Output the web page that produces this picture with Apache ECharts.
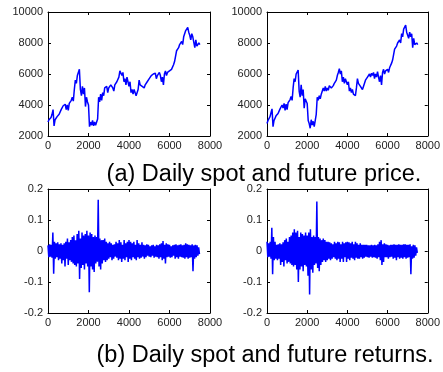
<!DOCTYPE html>
<html>
<head>
<meta charset="utf-8">
<script src="https://cdn.jsdelivr.net/npm/echarts@6/dist/echarts.min.js"></script>
<style>
  html, body { margin: 0; padding: 0; background: #fff; }
  #chart { width: 443px; height: 372px; }
</style>
</head>
<body>
<div id="chart"></div>
<script>
// trading days between samples
const PRICE_STEP = 50;
const RETURN_STEP = 40;

const dayTicks = [0, 2000, 4000, 6000, 8000];
const priceTicks = [2000, 4000, 6000, 8000, 10000];
const returnTicks = [-0.2, -0.1, 0, 0.1, 0.2];

const spotPrice = [
  2900, 3050, 3000, 3200, 3400, 3700, 2650, 3050, 3100, 3250,
  3150, 3400, 3500, 3700, 3800, 3950, 3850, 4050, 3700, 4000,
  3650, 4100, 4200, 4300, 4500, 4250, 5000, 5600, 5400, 5900,
  6000, 6300, 5000, 4600, 5200, 4700, 5100, 3900, 4500, 4200,
  4000, 2600, 2900, 2700, 3000, 2650, 2900, 2700, 2650, 3100,
  4500, 4200, 4700, 4300, 4800, 4600, 5100, 5000, 5200, 4800,
  5100, 5000, 5300, 5200, 5100, 4900, 5300, 5400, 5500, 5600,
  5800, 6200, 6300, 5900, 6100, 5500, 5700, 5300, 5800, 5500,
  5200, 5500, 4800, 5000, 4700, 5000, 4800, 4600, 4500, 5000,
  5600, 5300, 5400, 5200, 5300, 5100, 5300, 5200, 5500, 5400,
  5700, 5600, 5900, 5800, 6000, 5900, 6050, 5700, 5900, 5800,
  6100, 5900, 5500, 5800, 5300, 6000, 6200, 5900, 6100, 6000,
  6200, 6100, 6300, 6200, 6600, 6800, 6700, 7500, 7600, 7700,
  7900, 7800, 8100, 7900, 8400, 8300, 8800, 8700, 9000, 8700,
  8500, 8200, 8600, 8400, 8500, 7700, 8200, 7800, 7700, 8000,
  7900
];

const futurePrice = [
  2800, 3000, 2950, 3250, 3500, 3750, 2600, 3000, 3150, 3300,
  3200, 3450, 3550, 3750, 3850, 4000, 3800, 4100, 3650, 4050,
  3700, 4150, 4250, 4350, 4550, 4300, 5100, 5700, 5500, 6000,
  6100, 6250, 4900, 4500, 5300, 4600, 5000, 3800, 4400, 4300,
  4100, 3000, 2800, 2500, 3050, 2700, 2950, 2600, 2700, 3400,
  4500, 4300, 4600, 4400, 4700, 4600, 5100, 4900, 5200, 4900,
  5100, 4950, 5250, 5200, 5100, 5000, 5250, 5400, 5450, 5600,
  5900, 6100, 6350, 6000, 6200, 5500, 5800, 5400, 5700, 5500,
  5300, 5500, 4900, 5100, 4800, 5000, 4700, 4600, 4600, 5100,
  5700, 5400, 5300, 5200, 5100, 5000, 5200, 5300, 5600, 5500,
  5800, 5700, 6000, 5800, 6050, 5900, 6100, 5700, 6000, 5800,
  6150, 5800, 5500, 5900, 5300, 6100, 6300, 6000, 6200, 6100,
  6300, 6100, 6400, 6300, 6700, 6900, 6800, 7600, 7700, 7800,
  8000, 7900, 8200, 8000, 8600, 8400, 8900, 8800, 9150, 8700,
  8600, 8300, 8700, 8400, 8600, 7700, 8300, 7900, 7800, 8000,
  7900
];

const spotReturns = [
  0.018, -0.02, 0.022, -0.018, 0.02, -0.022, 0.06, -0.073, 0.03, -0.025,
  0.025, -0.02, 0.028, -0.03, 0.022, -0.025, 0.025, -0.04, 0.02, -0.03,
  0.025, -0.05, 0.03, -0.025, 0.04, -0.045, 0.028, -0.03, 0.035, -0.035,
  0.045, -0.04, 0.05, -0.045, 0.035, -0.05, 0.055, -0.04, 0.065, -0.09,
  0.04, -0.055, 0.06, -0.045, 0.05, -0.06, 0.055, -0.04, 0.065, -0.05,
  0.05, -0.133, 0.06, -0.05, 0.055, -0.06, 0.045, -0.068, 0.05, -0.04,
  0.045, -0.035, 0.165, -0.05, 0.04, -0.06, 0.035, -0.04, 0.035, -0.03,
  0.04, -0.035, 0.03, -0.03, 0.025, -0.025, 0.03, -0.02, 0.025, -0.03,
  0.02, -0.025, 0.022, -0.018, 0.03, -0.022, 0.025, -0.03, 0.035, -0.025,
  0.028, -0.035, 0.02, -0.025, 0.035, -0.03, 0.025, -0.02, 0.03, -0.035,
  0.035, -0.025, 0.03, -0.03, 0.025, -0.02, 0.03, -0.025, 0.02, -0.03,
  0.035, -0.02, 0.025, -0.025, 0.02, -0.022, 0.028, -0.018, 0.02, -0.025,
  0.018, -0.02, 0.022, -0.015, 0.02, -0.018, 0.015, -0.02, 0.018, -0.015,
  0.02, -0.022, 0.015, -0.018, 0.02, -0.02, 0.018, -0.025, 0.022, -0.02,
  0.025, -0.03, 0.032, -0.025, 0.02, -0.04, 0.025, -0.02, 0.022, -0.018,
  0.02, -0.022, 0.015, -0.02, 0.018, -0.015, 0.02, -0.025, 0.022, -0.02,
  0.018, -0.025, 0.02, -0.018, 0.022, -0.02, 0.018, -0.022, 0.02, -0.025,
  0.025, -0.02, 0.022, -0.025, 0.02, -0.022, 0.018, -0.02, 0.022, -0.065,
  0.018, -0.025, 0.02, -0.02, 0.018, -0.015, 0.012, -0.01
];

const futureReturns = [
  0.03, -0.02, 0.025, -0.018, 0.03, -0.025, 0.075, -0.075, 0.045, -0.03,
  0.03, -0.025, 0.02, -0.03, 0.022, -0.025, 0.025, -0.045, 0.022, -0.035,
  0.028, -0.05, 0.035, -0.03, 0.04, -0.04, 0.03, -0.035, 0.045, -0.04,
  0.05, -0.045, 0.06, -0.05, 0.07, -0.045, 0.06, -0.06, 0.065, -0.1,
  0.045, -0.06, 0.06, -0.05, 0.055, -0.065, 0.05, -0.045, 0.06, -0.05,
  0.05, -0.08, 0.06, -0.14, 0.07, -0.06, 0.045, -0.07, 0.05, -0.045,
  0.045, -0.04, 0.16, -0.055, 0.045, -0.065, 0.04, -0.045, 0.035, -0.035,
  0.04, -0.03, 0.035, -0.035, 0.03, -0.03, 0.03, -0.025, 0.028, -0.03,
  0.025, -0.025, 0.022, -0.02, 0.03, -0.025, 0.025, -0.03, 0.03, -0.025,
  0.028, -0.035, 0.022, -0.025, 0.03, -0.035, 0.025, -0.02, 0.028, -0.035,
  0.03, -0.025, 0.028, -0.03, 0.025, -0.022, 0.03, -0.025, 0.022, -0.03,
  0.03, -0.022, 0.025, -0.025, 0.02, -0.025, 0.025, -0.02, 0.02, -0.025,
  0.02, -0.022, 0.02, -0.018, 0.02, -0.02, 0.018, -0.022, 0.018, -0.018,
  0.02, -0.022, 0.018, -0.02, 0.02, -0.022, 0.018, -0.025, 0.022, -0.02,
  0.03, -0.03, 0.035, -0.045, 0.022, -0.035, 0.025, -0.02, 0.022, -0.02,
  0.02, -0.025, 0.018, -0.02, 0.02, -0.018, 0.02, -0.025, 0.022, -0.022,
  0.02, -0.03, 0.02, -0.02, 0.022, -0.025, 0.02, -0.022, 0.02, -0.025,
  0.022, -0.02, 0.022, -0.025, 0.02, -0.022, 0.02, -0.02, 0.022, -0.075,
  0.015, -0.025, 0.02, -0.022, 0.018, -0.015, 0.012, -0.006
];

const captions = ['(a) Daily spot and future price.', '(b) Daily spot and future returns.'];

const font = 'Liberation Sans';
const lineColor = '#0000ff';

// pair each value with its day index
const withDays = (values, step) => values.map((v, i) => [i * step, v]);

const grids = [
  { left: 48, top: 12, width: 162, height: 124 },
  { left: 267, top: 12, width: 163, height: 124 },
  { left: 48, top: 189, width: 162, height: 124 },
  { left: 267, top: 189, width: 163, height: 124 }
];

const frameLine = { show: true, onZero: false, lineStyle: { color: '#000', width: 1 } };
const innerTick = { show: true, inside: true, length: 3, lineStyle: { color: '#000' } };

const xAxes = [];
const yAxes = [];
grids.forEach((g, i) => {
  const ticks = i < 2 ? priceTicks : returnTicks;
  ['bottom', 'top'].forEach((pos) => {
    xAxes.push({
      type: 'value', gridIndex: i, position: pos,
      min: dayTicks[0], max: dayTicks[dayTicks.length - 1], interval: dayTicks[1] - dayTicks[0],
      axisLine: frameLine, axisTick: innerTick, splitLine: { show: false },
      axisLabel: {
        show: pos === 'bottom', margin: 4, color: '#222', fontSize: 11, fontFamily: font,
        showMinLabel: true, showMaxLabel: true,
        formatter: (v) => String(v)
      }
    });
  });
  ['left', 'right'].forEach((pos) => {
    yAxes.push({
      type: 'value', gridIndex: i, position: pos,
      min: ticks[0], max: ticks[ticks.length - 1], interval: ticks[1] - ticks[0],
      axisLine: frameLine, axisTick: innerTick, splitLine: { show: false },
      axisLabel: {
        show: pos === 'left', margin: 5, color: '#222', fontSize: 11, fontFamily: font,
        showMinLabel: true, showMaxLabel: true,
        formatter: (v) => String(Math.round(v * 10) / 10)
      }
    });
  });
});

const seriesData = [
  withDays(spotPrice, PRICE_STEP),
  withDays(futurePrice, PRICE_STEP),
  withDays(spotReturns, RETURN_STEP),
  withDays(futureReturns, RETURN_STEP)
];

const chart = echarts.init(document.getElementById('chart'), null, { renderer: 'canvas' });

chart.setOption({
  animation: false,
  backgroundColor: '#fff',
  grid: grids,
  xAxis: xAxes,
  yAxis: yAxes,
  series: seriesData.map((d, i) => ({
    type: 'line',
    xAxisIndex: i * 2,
    yAxisIndex: i * 2,
    data: d,
    showSymbol: false,
    symbol: 'none',
    sampling: null,
    lineStyle: { color: lineColor, width: 1.5 },
    itemStyle: { color: lineColor }
  })),
  graphic: [
    {
      type: 'text', x: 264, y: 175,
      style: {
        text: captions[0], fill: '#000', font: '23.5px "Liberation Sans"',
        textAlign: 'center', textVerticalAlign: 'middle'
      }
    },
    {
      type: 'text', x: 265, y: 356,
      style: {
        text: captions[1], fill: '#000', font: '23.5px "Liberation Sans"',
        textAlign: 'center', textVerticalAlign: 'middle'
      }
    }
  ]
});
</script>
</body>
</html>
